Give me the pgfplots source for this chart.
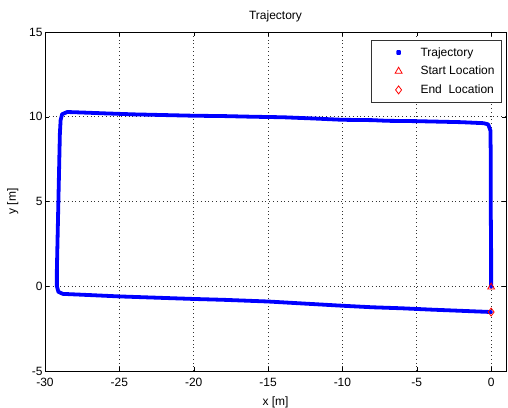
\documentclass[border=0pt]{standalone}
\usepackage{pgfplots}
\pgfplotsset{compat=1.18}
\usepackage{fontspec}
\setmainfont{Liberation Sans}
\begin{document}
\begin{tikzpicture}
\path[use as bounding box] (-45pt,-36pt) rectangle (463pt,371pt);
\begin{axis}[
  at={(0pt,0pt)}, anchor=south west,
  width=461pt, height=339pt, scale only axis,
  xmin=-30, xmax=1, ymin=-5, ymax=15,
  xtick={-30,-25,...,0}, ytick={-5,0,5,10,15},
  grid=major,
  major grid style={black!80, line width=0.6pt, dash pattern=on 0.8pt off 3pt},
  tick style={black},
  axis line style={black, line width=0.6pt},
  every tick label/.append style={font=\fontsize{12}{12}\selectfont},
  xticklabel style={yshift=-4pt},
  yticklabel style={xshift=1pt},
  /pgf/number format/assume math mode=true,
  title={Trajectory},
  title style={font=\fontsize{12}{12}\selectfont, yshift=0pt},
  xlabel={x [m]}, ylabel={y [m]},
  label style={font=\fontsize{12}{12}\selectfont},
  xlabel style={yshift=-3pt},
  ylabel style={yshift=4pt},
  legend style={at={(0.991,0.976)}, anchor=north east, draw=black!80, line width=0.6pt,
    font=\fontsize{12}{13}\selectfont, row sep=4.5pt, inner xsep=5pt, inner ysep=5pt},
  legend cell align=left,
]
\addplot[blue, line width=3.8pt, line join=round, line cap=round,
  legend image code/.code={\path (0pt,0pt) (38pt,0pt); \fill[blue] (20pt,0pt) circle (1pt);}]
coordinates {
(0,-0.05) (0.0,2) (-0.02,4) (-0.03,6) (-0.03,8) (-0.05,9.2) (-0.2,9.55) (-0.5,9.62)
(-2,9.68) (-4,9.72) (-5,9.74) (-7,9.76) (-8,9.8) (-10,9.82) (-12,9.9) (-14,9.97)
(-16,10.0) (-18,10.04) (-20,10.06) (-22,10.1) (-24,10.14) (-26,10.2) (-27.5,10.25)
(-28.5,10.28) (-28.85,10.15) (-28.95,9.8)
(-29.0,9) (-29.05,7) (-29.1,5) (-29.15,3) (-29.2,1) (-29.2,0) (-29.1,-0.33) (-28.8,-0.45)
(-27,-0.52) (-25,-0.6) (-23,-0.66) (-20,-0.75) (-18,-0.8) (-15,-0.9) (-13,-1.0)
(-11,-1.1) (-10,-1.15) (-8,-1.24) (-6,-1.3) (-4,-1.38) (-2,-1.45) (0,-1.52)
};
\addlegendentry{Trajectory}
\addplot[red, only marks, mark=triangle, mark size=4pt, line width=0.8pt,
  legend image code/.code={\path (0pt,0pt) (38pt,0pt); \draw[only marks] plot coordinates {(20pt,0pt)};}]
coordinates {(0,-0.05)};
\addlegendentry{Start Location}
\addplot[red, only marks, mark=diamond, mark size=4pt, line width=0.8pt,
  legend image code/.code={\path (0pt,0pt) (38pt,0pt); \draw[only marks] plot coordinates {(20pt,0pt)};}]
coordinates {(0,-1.52)};
\addlegendentry{End\ \ Location}
\end{axis}
\end{tikzpicture}
\end{document}
